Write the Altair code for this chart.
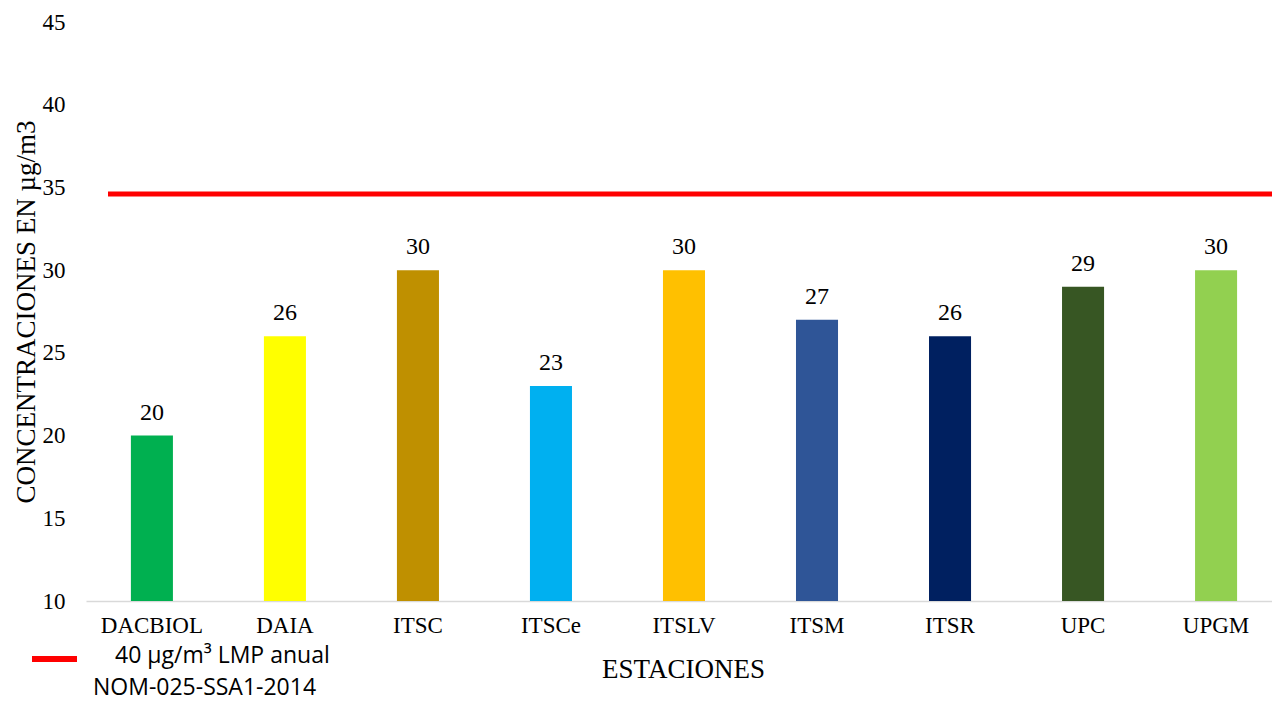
import altair as alt
import pandas as pd

estaciones = ["DACBIOL", "DAIA", "ITSC", "ITSCe", "ITSLV", "ITSM", "ITSR", "UPC", "UPGM"]
valores = [20, 26, 30, 23, 30, 27, 26, 29, 30]
colores = ["#00B050", "#FFFF00", "#BF9000", "#00B0F0", "#FFC000", "#2F5597", "#002060", "#375623", "#92D050"]
limite = [34.6]
ticks_y = [10, 15, 20, 25, 30, 35, 40, 45]
leyenda_1 = ["40 µg/m³ LMP anual"]
leyenda_2 = ["NOM-025-SSA1-2014"]

SERIF = "'Times New Roman', 'Liberation Serif', serif"
SANS = "'Open Sans', 'Noto Sans', sans-serif"
W, H = 1186, 579

df = pd.DataFrame({"estacion": estaciones, "valor": valores, "color": colores})

xscale = alt.Scale(paddingInner=0.684, paddingOuter=0.3, align=0.5625)
yscale = alt.Scale(domain=[10, 45], nice=False, zero=False)

x_enc = alt.X(
    "estacion:N", sort=estaciones, scale=xscale,
    axis=alt.Axis(
        labelAngle=0, labelFont=SERIF, labelFontSize=23, labelColor="#000000",
        labelPadding=13, ticks=False, domainColor="#D9D9D9", domainWidth=1.5,
        grid=False, title="ESTACIONES", titleFont=SERIF, titleFontSize=27,
        titleFontWeight="normal", titleColor="#000000", titleX=597, titleY=76,
        titleBaseline="alphabetic", titleAlign="center",
    ),
)
y_enc = alt.Y(
    "valor:Q", scale=yscale,
    axis=alt.Axis(
        values=ticks_y, labelFont=SERIF, labelFontSize=23, labelColor="#000000",
        labelPadding=21, ticks=False, domain=False, grid=False,
        title="CONCENTRACIONES EN µg/m3", titleFont=SERIF, titleFontSize=27,
        titleFontWeight="normal", titleColor="#000000", titleAngle=270,
        titleX=-52, titleY=H / 2, titleBaseline="alphabetic", titleAlign="center",
    ),
)

bars = alt.Chart(df).mark_bar().encode(
    x=x_enc, y=y_enc, y2=alt.datum(10),
    color=alt.Color("color:N", scale=None),
)

labels = alt.Chart(df).mark_text(
    dy=-16, baseline="alphabetic", font=SERIF, fontSize=24, color="#000000"
).encode(x=alt.X("estacion:N", sort=estaciones, scale=xscale), y=alt.Y("valor:Q", scale=yscale), text="valor:Q")

lmp = alt.Chart(pd.DataFrame({"valor": limite})).mark_rule(color="#FF0000", strokeWidth=5).encode(
    y=alt.Y("valor:Q", scale=yscale), x=alt.value(22), x2=alt.value(W)
)

leg_rule = alt.Chart(pd.DataFrame({"valor": limite})).mark_rule(color="#FF0000", strokeWidth=6).encode(
    x=alt.value(-54), x2=alt.value(-9), y=alt.value(637)
)
leg_t1 = alt.Chart(pd.DataFrame({"t": leyenda_1})).mark_text(
    align="left", baseline="alphabetic", font=SANS, fontSize=23, color="#000000"
).encode(x=alt.value(29), y=alt.value(641), text="t:N")
leg_t2 = alt.Chart(pd.DataFrame({"t": leyenda_2})).mark_text(
    align="left", baseline="alphabetic", font=SANS, fontSize=23, color="#000000"
).encode(x=alt.value(7), y=alt.value(673), text="t:N")

chart = alt.layer(bars, labels, lmp, leg_rule, leg_t1, leg_t2).properties(
    width=W, height=H,
    autosize=alt.AutoSizeParams(type="none"),
    padding={"left": 78, "top": 14, "right": 0, "bottom": 100},
    background="#FFFFFF",
).configure_view(stroke=None)

chart.save("out.html", embed_options={"renderer": "svg", "actions": False})
